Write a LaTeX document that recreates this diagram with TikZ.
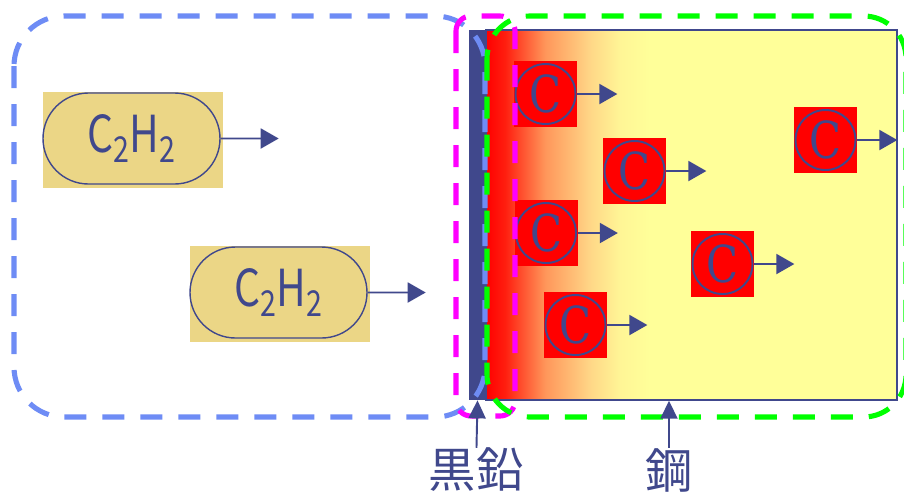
\documentclass[tikz,border=0pt]{standalone}
\usepackage{fontspec}
\setmainfont{Noto Sans CJK JP}
\newfontfamily\atomfont{DejaVu Serif}
\usetikzlibrary{arrows.meta,shapes.misc}
\definecolor{ink}{RGB}{64,72,140}
\definecolor{tan}{RGB}{235,214,134}
\definecolor{zoneblue}{RGB}{110,140,245}
\definecolor{zonepink}{RGB}{255,0,255}
\definecolor{zonegreen}{RGB}{0,255,0}
\definecolor{steelred}{RGB}{255,30,15}
\definecolor{steelorange}{RGB}{255,150,90}
\definecolor{steelpeach}{RGB}{255,215,135}
\definecolor{steelpale}{RGB}{255,245,150}
\definecolor{steelyellow}{RGB}{255,255,153}
\pgfdeclarehorizontalshading{steelfade}{100bp}{color(0bp)=(red); color(25bp)=(red); color(27.3bp)=(steelred); color(32.2bp)=(steelorange); color(37.7bp)=(steelpeach); color(41.3bp)=(steelpale); color(45bp)=(steelyellow); color(100bp)=(steelyellow)}
\newcommand\acetylene{\scalebox{0.8}[1]{C\textsubscript{2}H\textsubscript{2}}}

\begin{document}
\begin{tikzpicture}[every node/.style={font=\fontsize{29}{29}\selectfont, text=ink},
  gasbox/.style={fill=tan, minimum width=3.6cm, minimum height=1.92cm, inner sep=0},
  pill/.style={draw=ink, line width=0.8pt, rounded rectangle, minimum width=3.54cm, minimum height=1.82cm, inner sep=0},
  atom/.style={fill=red, minimum width=1.26cm, minimum height=1.32cm, inner sep=0, font=\atomfont\fontsize{29}{29}\selectfont,
    path picture={\draw[ink, line width=1.1pt] (path picture bounding box.center) circle (0.6cm);}},
  flow/.style={draw=ink, line width=1.1pt, -{Triangle[length=0.36cm, width=0.4cm]}},
  pointer/.style={draw=ink, line width=1.1pt, -{Triangle[length=0.36cm, width=0.34cm]}},
  zone/.style={line width=2.9pt, dash pattern=on 0.44cm off 0.32cm, rounded corners=#1},
  tag/.style={inner sep=0, font=\fontsize{27}{27}\selectfont}]
\useasboundingbox (0,0) rectangle (18.08,-9.92);

% gas side
\node[gasbox] (gas1box) at (2.66,-2.80) {};
\node[pill] (gas1) at (2.63,-2.77) {\acetylene};
\node[gasbox] (gas2box) at (5.60,-5.88) {};
\node[pill] (gas2) at (5.57,-5.85) {\acetylene};
\coordinate (gas1tip) at ([xshift=1.16cm]gas1.east);
\coordinate (gas2tip) at ([xshift=1.16cm]gas2.east);
\draw[flow] (gas1) -- (gas1tip);
\draw[flow] (gas2) -- (gas2tip);

% steel and graphite
\node[draw=ink, line width=0.8pt, shade, shading=steelfade, minimum width=8.22cm, minimum height=7.4cm, inner sep=0] (steel) at (13.83,-4.30) {};
\node[fill=ink, minimum width=0.34cm, minimum height=7.4cm, inner sep=0] (graphite) at (9.55,-4.30) {};

% carbon atoms
\foreach \n/\x/\y in {1/10.91/-1.88, 2/12.69/-3.42, 3/10.92/-4.66, 4/14.45/-5.28, 5/11.51/-6.50, 6/16.51/-2.80} {
  \node[atom] (c\n) at (\x,\y) {\scalebox{0.82}[1]{C}};
  \coordinate (c\n tip) at ([xshift=0.8cm]c\n.east);
  \draw[flow] (c\n) -- (c\n tip);
}

% regions
\draw[zone=1cm, zoneblue] (0.28,-0.32) rectangle (9.70,-8.34);
\draw[zone=0.3cm, zonepink] (9.12,-0.32) rectangle (10.30,-8.32);
\draw[zone=0.85cm, zonegreen] (9.74,-0.32) rectangle (18.12,-8.34);

% labels
\node[tag] (graphiteLabel) at (9.52,-9.40) {黒鉛};
\node[tag] (steelLabel) at (13.38,-9.40) {鋼};
\coordinate (steelMark) at (steelLabel |- steel.south);
\draw[pointer] (graphiteLabel) -- (graphite.south);
\draw[pointer] (steelLabel) -- (steelMark);
\end{tikzpicture}
\end{document}
